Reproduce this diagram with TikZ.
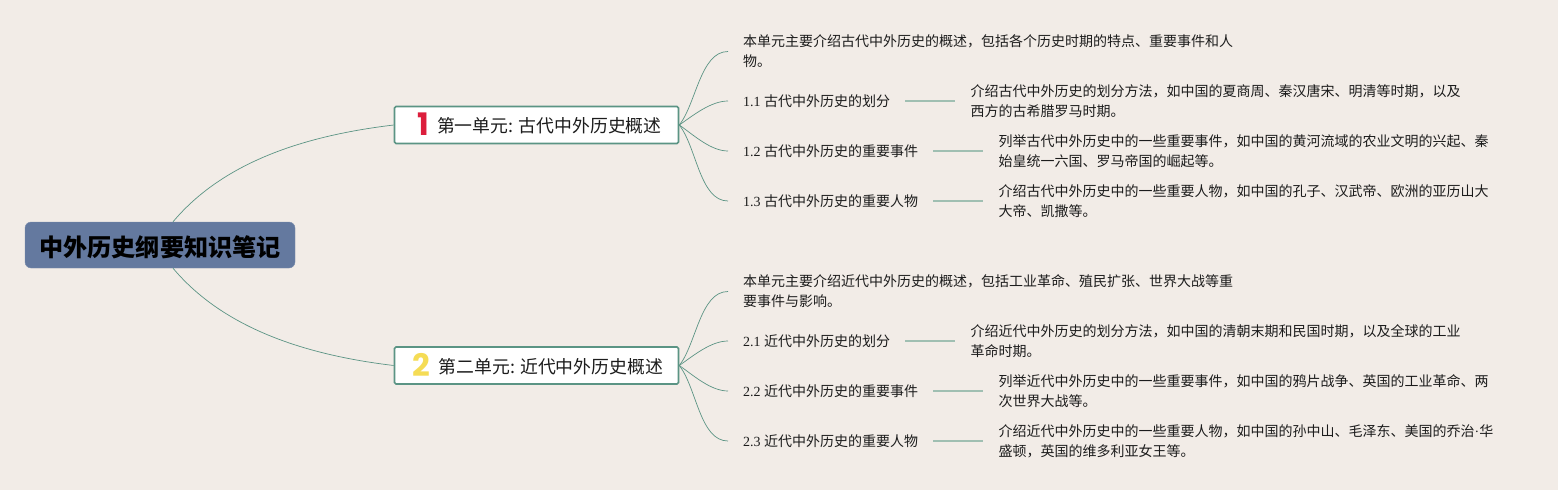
\documentclass[tikz,border=0pt]{standalone}
\usepackage{fontspec}
\usepackage{tikz}
\usetikzlibrary{positioning}
\setmainfont{Liberation Serif}
\newfontfamily\cjk{Noto Sans CJK SC}
\newfontfamily\numfont{Poppins}
\newcommand{\unitnum}[2]{\raisebox{-3pt}{\numfont\bfseries\fontsize{31}{31}\selectfont\textcolor{#1}{#2}}}
\definecolor{mappaper}{HTML}{F2ECE7}
\definecolor{mapblue}{HTML}{64799F}
\definecolor{mapgreen}{HTML}{5B9484}
\definecolor{mapleader}{HTML}{A0BFB2}
\definecolor{mapred}{HTML}{DC1E3C}
\definecolor{mapyellow}{HTML}{F5DC55}
\definecolor{mapink}{HTML}{1C1C1C}

\begin{document}
\begin{tikzpicture}[
    x=1pt, y=-1pt,
    root/.style={draw=mapblue!85, fill=mapblue, rounded corners=6pt, text=black, font=\fontsize{24.1}{28}\cjk\bfseries, minimum width=270pt, minimum height=46pt, inner sep=0pt},
    unit/.style={draw=mapgreen, line width=1.6pt, fill=white, rounded corners=1.5pt, text=mapink, font=\fontsize{17.85}{22}\cjk, minimum width=284pt, minimum height=37pt, inner sep=0pt},
    child/.style={text=mapink, font=\fontsize{14}{20}\selectfont, align=left, inner xsep=15pt, inner ysep=0pt},
    leaf/.style={child, font=\fontsize{14}{20}\cjk},
    branch/.style={mapgreen, line width=0.7pt},
    twig/.style={mapgreen, line width=0.7pt, out=52, in=180, looseness=0.8},
    twigdown/.style={mapgreen, line width=0.7pt, out=-52, in=180, looseness=0.8},
    leader/.style={mapleader, line width=1.8pt, yshift=1pt}
]

% Canvas
\fill[mappaper] (0,0) rectangle (1558,490);
\useasboundingbox (0,0) rectangle (1558,490);

% Nodes
\node[root] (root) at (160,245) {\raisebox{0pt}[22pt][0pt]{中外历史纲要知识笔记}};

\node[unit] (u1) at (536.5,125) {\raisebox{0pt}[15.4pt][0pt]{\hspace{6pt}\unitnum{mapred}{1}\hspace{8pt}第一单元: 古代中外历史概述}};
\node[unit] (u2) at (536.5,365.5) {\raisebox{0pt}[15.4pt][0pt]{\hspace{3pt}\unitnum{mapyellow}{2}\hspace{8pt}第二单元: 近代中外历史概述}};

% First unit
\node[leaf, anchor=west] (s1) at (728,51.5) {本单元主要介绍古代中外历史的概述，包括各个历史时期的特点、重要事件和人\\物。};
\node[child, anchor=west] (c11) at (728,101) {1.1 {\cjk 古代中外历史的划分}};
\node[child, anchor=west] (c12) at (728,151) {1.2 {\cjk 古代中外历史的重要事件}};
\node[child, anchor=west] (c13) at (728,201) {1.3 {\cjk 古代中外历史的重要人物}};
\node[leaf, right=50pt of c11] (l11) {介绍古代中外历史的划分方法，如中国的夏商周、秦汉唐宋、明清等时期，以及\\西方的古希腊罗马时期。};
\node[leaf, right=50pt of c12] (l12) {列举古代中外历史中的一些重要事件，如中国的黄河流域的农业文明的兴起、秦\\始皇统一六国、罗马帝国的崛起等。};
\node[leaf, right=50pt of c13] (l13) {介绍古代中外历史中的一些重要人物，如中国的孔子、汉武帝、欧洲的亚历山大\\大帝、凯撒等。};

% Second unit
\node[leaf, anchor=west] (s2) at (728,291.5) {本单元主要介绍近代中外历史的概述，包括工业革命、殖民扩张、世界大战等重\\要事件与影响。};
\node[child, anchor=west] (c21) at (728,341) {2.1 {\cjk 近代中外历史的划分}};
\node[child, anchor=west] (c22) at (728,391) {2.2 {\cjk 近代中外历史的重要事件}};
\node[child, anchor=west] (c23) at (728,441) {2.3 {\cjk 近代中外历史的重要人物}};
\node[leaf, right=50pt of c21] (l21) {介绍近代中外历史的划分方法，如中国的清朝末期和民国时期，以及全球的工业\\革命时期。};
\node[leaf, right=50pt of c22] (l22) {列举近代中外历史中的一些重要事件，如中国的鸦片战争、英国的工业革命、两\\次世界大战等。};
\node[leaf, right=50pt of c23] (l23) {介绍近代中外历史中的一些重要人物，如中国的孙中山、毛泽东、美国的乔治{\rmfamily ·}华\\盛顿，英国的维多利亚女王等。};

% Connections
\draw[branch] (root.north) ++(13,0) .. controls +(52,-62) and +(-84,10) .. (u1.west);
\draw[branch] (root.south) ++(13,0) .. controls +(52,62) and +(-84,-10) .. (u2.west);

\draw[twig] (u1.east) to (s1.west);
\draw[twig, out=35] (u1.east) to (c11.west);
\draw[twigdown, out=-35] (u1.east) to (c12.west);
\draw[twigdown] (u1.east) to (c13.west);

\draw[twig] (u2.east) to (s2.west);
\draw[twig, out=35] (u2.east) to (c21.west);
\draw[twigdown, out=-35] (u2.east) to (c22.west);
\draw[twigdown] (u2.east) to (c23.west);

\draw[leader] (c11) -- (l11);
\draw[leader] (c12) -- (l12);
\draw[leader] (c13) -- (l13);
\draw[leader] (c21) -- (l21);
\draw[leader] (c22) -- (l22);
\draw[leader] (c23) -- (l23);

\end{tikzpicture}
\end{document}
